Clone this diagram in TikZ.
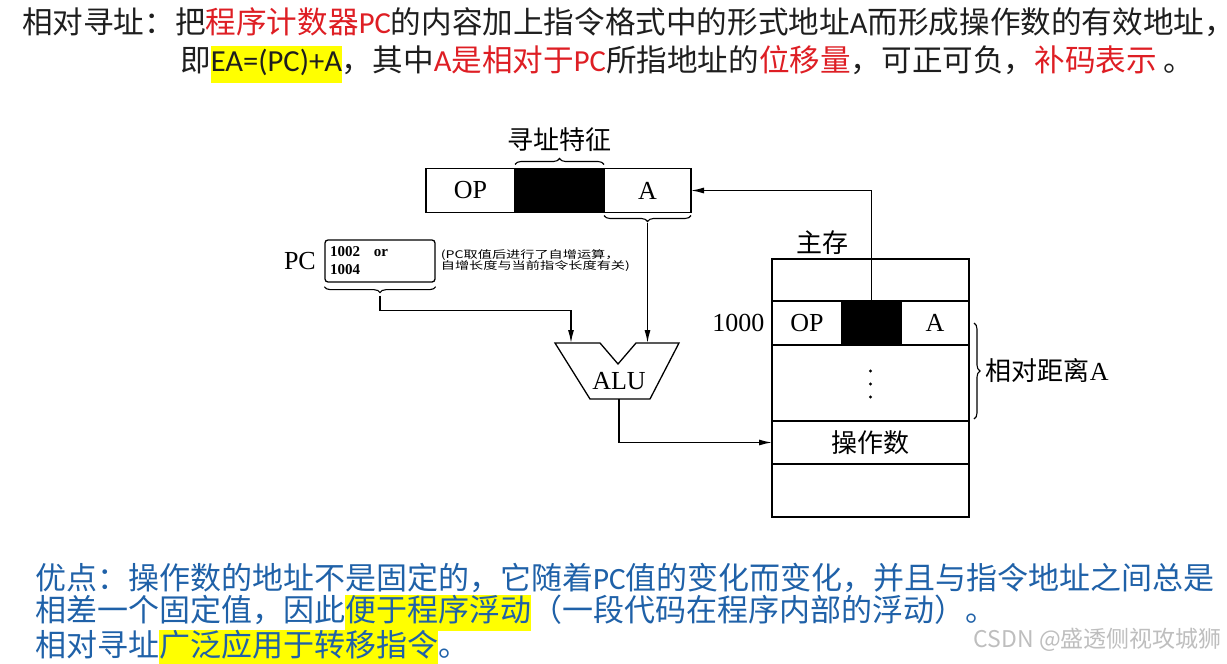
\documentclass[tikz,border=0pt]{standalone}
\usepackage{fontspec}
\setmainfont{Liberation Serif}
\newfontfamily\cjk{Noto Sans CJK SC}
\newfontfamily\cjknote[FakeStretch=1.35]{Noto Sans CJK SC}
\newfontfamily\lat{Carlito}
\usetikzlibrary{arrows.meta, positioning, calc, decorations.pathreplacing}
\definecolor{inkgray}{RGB}{30,30,30}
\definecolor{keyred}{RGB}{222,30,36}
\definecolor{noteblue}{RGB}{31,97,168}
\definecolor{hlyellow}{RGB}{255,255,0}
\definecolor{markgray}{RGB}{190,190,190}
\newcommand{\hlbox}[1]{{\setlength{\fboxsep}{0pt}\colorbox{hlyellow}{\strut#1}}}

\tikzset{
  cell/.style={draw, line width=1.3pt, minimum height=44pt, inner sep=0pt, outer sep=0pt, font=\fontsize{26}{26}\selectfont},
  blk/.style={cell, fill=black},
  memrow/.style={draw, line width=1.3pt, minimum width=197pt, inner sep=0pt, outer sep=0pt, anchor=north west},
  link/.style={line width=1.3pt, -{Latex[length=13pt,width=6pt]}},
  brc/.style={line width=1.1pt, decorate, decoration={brace, amplitude=6pt}},
  lbl/.style={font=\fontsize{26}{26}\selectfont},
  topline/.style={anchor=west, inner sep=0pt, text=inkgray, font=\cjk\fontsize{30.6}{37}\selectfont},
  botline/.style={anchor=west, inner sep=0pt, text=noteblue, font=\cjk\fontsize{31}{34}\selectfont},
}

\begin{document}
\begin{tikzpicture}[x=1pt, y=-1pt]
  \useasboundingbox (0,0) rectangle (1227,664);

  % definition text
  \node[topline] (def1) at (22,22) {相对寻址：把\textcolor{keyred}{程序计数器{\lat PC}}的内容加上指令格式中的形式地址{\lat A}而形成操作数的有效地址，};
  \node[topline] (def2) at (180,64) {即\hlbox{\lat EA=(PC)+A}，其中\textcolor{keyred}{{\lat A}是相对于{\lat PC}}所指地址的\textcolor{keyred}{位移量}，可正可负，\textcolor{keyred}{补码表示} 。};

  % instruction
  \node[cell, minimum width=89pt] (iop) at (470.5,190.5) {OP};
  \node[blk, minimum width=89pt, right=0pt of iop] (imode) {};
  \node[cell, minimum width=87pt, right=0pt of imode] (ia) {A};
  \draw[brc] ([yshift=4pt]imode.north west) -- ([yshift=4pt]imode.north east)
    node[midway, above=9pt, lbl] (feat) {\cjk 寻址特征};
  \draw[brc] ([yshift=-3pt]ia.south east) -- ([yshift=-3pt]ia.south west);
  \coordinate (atip) at ([yshift=-10pt]ia.south);

  % PC
  \node[draw, rounded corners=3pt, line width=1.3pt, minimum width=110pt, minimum height=42pt, text width=100pt, align=left, inner sep=5pt, font=\bfseries\fontsize{15}{18}\selectfont] (pcreg) at (380,261) {1002\hspace{14pt}or\\1004};
  \node[lbl, left=5pt of pcreg] (pclbl) {PC};
  \node[right=5pt of pcreg, align=left, inner sep=0pt, font=\cjknote\fontsize{10.5}{11}\selectfont] (pcnote) {(PC取值后进行了自增运算，\\自增长度与当前指令长度有关)};
  \draw[brc] ([yshift=-4pt]pcreg.south east) -- ([yshift=-4pt]pcreg.south west);
  \coordinate (pctip) at ([yshift=-13pt]pcreg.south);

  % ALU
  \draw[line width=1.3pt] (555,343) -- (600,343) -- (618,364) -- (636,343) -- (679,343) -- (650,399) -- (590,399) -- cycle;
  \node[lbl] (alu) at (619,381) {ALU};
  \coordinate (aluinl) at (571,343);
  \coordinate (aluinr) at (647.5,343);
  \coordinate (aluout) at (619,399);

  % main memory
  \node[memrow, minimum height=42pt] (m0) at (772,259) {};
  \node[cell, minimum width=70pt, anchor=north west] (mop) at (m0.south west) {OP};
  \node[blk, minimum width=59pt, right=0pt of mop] (mmode) {};
  \node[cell, minimum width=68pt, right=0pt of mmode] (ma) {A};
  \node[memrow, minimum height=76pt] (mdots) at (mop.south west) {};
  \foreach \dy in {-12,1,14}
    \fill ([yshift=-\dy pt]mdots.center) circle (1.7pt);
  \node[memrow, minimum height=43pt, lbl] (mopd) at (mdots.south west) {\cjk 操作数};
  \node[memrow, minimum height=53pt] (m4) at (mopd.south west) {};
  \node[lbl] (memlbl) at ([xshift=-48pt, yshift=16pt]m0.north) {\cjk 主存};
  \node[lbl, left=4pt of mop] (addr) {1000};
  \draw[brc] ([xshift=5pt]ma.east) -- ([xshift=5pt, yshift=2pt]mdots.south east)
    node[midway, right=8pt, lbl] (distlbl) {\cjk 相对距离{\rmfamily A}};

  % connectors
  \draw[link] (mmode.north) |- (ia.east);
  \draw[link] (atip) -- (aluinr);
  \draw[link] (pctip) -- ++(0,15) -| (aluinl);
  \draw[link] (aluout) |- (mopd.west);

  % advantages
  \node[botline] (adv1) at (35,578) {优点：操作数的地址不是固定的，它随着{\lat PC}值的变化而变化，并且与指令地址之间总是};
  \node[botline] (adv2) at (35,613) {相差一个固定值，因此\hlbox{便于程序浮动}（一段代码在程序内部的浮动）。};
  \node[botline] (adv3) at (35,648) {相对寻址\hlbox{广泛应用于转移指令}。};

  \node[anchor=east, inner sep=0pt, text=markgray, font=\cjk\fontsize{23}{23}\selectfont] (mark) at (1222,640) {CSDN @盛透侧视攻城狮};
\end{tikzpicture}
\end{document}
